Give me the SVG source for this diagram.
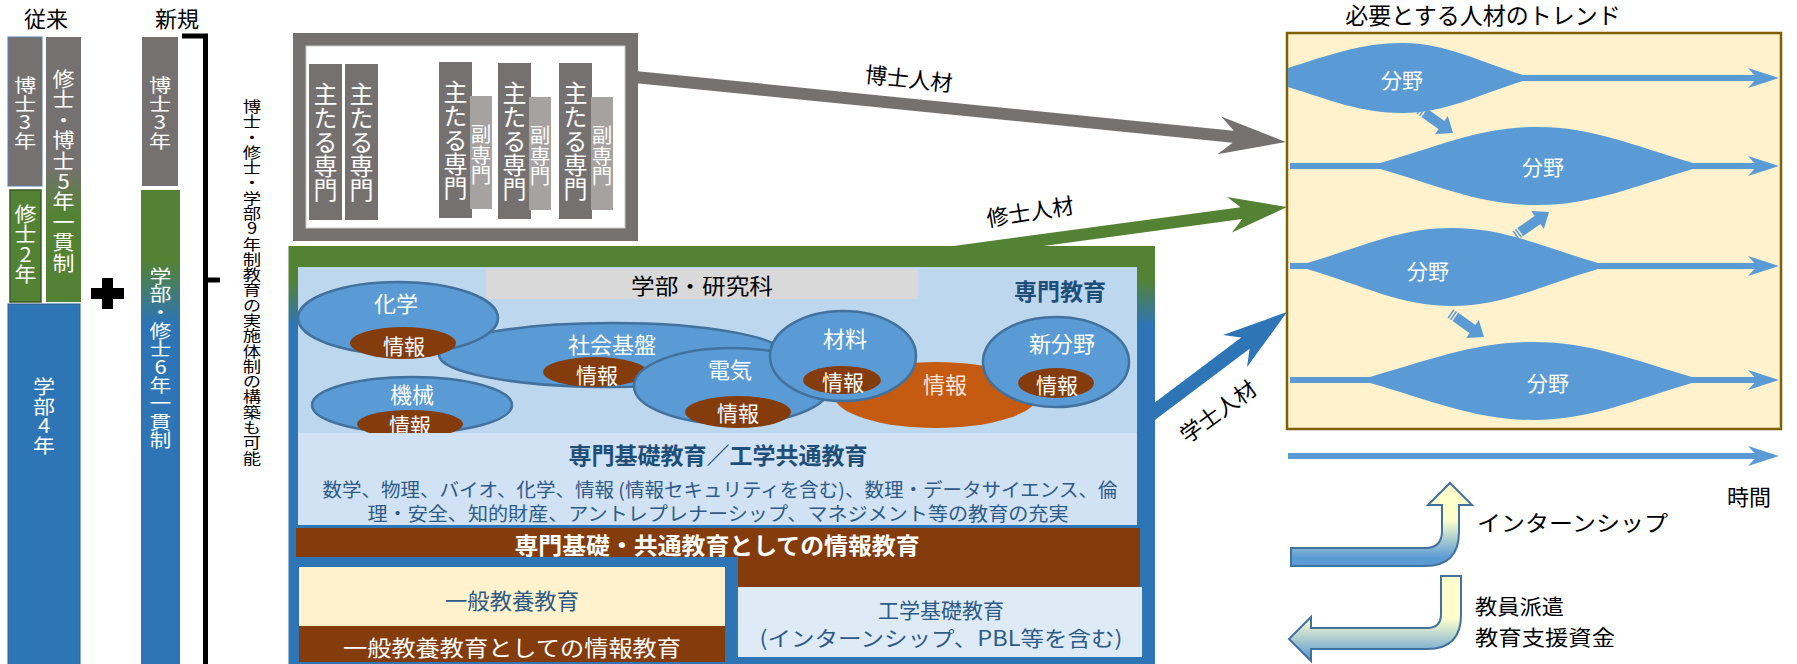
<svg xmlns="http://www.w3.org/2000/svg" width="1797" height="664" viewBox="0 0 1797 664">
<defs>
<style>
text{font-family:"Noto Sans CJK JP","Noto Sans",sans-serif;}
.c{text-anchor:middle;dominant-baseline:central;}
.s{text-anchor:start;dominant-baseline:central;}
.v{writing-mode:vertical-rl;text-orientation:upright;text-anchor:middle;}
.w{fill:#ffffff;}
.k{fill:#000000;}
.el{fill:#5B9BD5;stroke:#41719C;stroke-width:2.5;}
.br{fill:#843C0C;}
.blob{fill:#5B9BD5;}
.ln{stroke:#5B9BD5;stroke-width:6;fill:none;}
.db{fill:#1F4E79;font-weight:bold;}
.dt{fill:#2E5A88;}
</style>
<linearGradient id="g5" x1="0" y1="0" x2="0" y2="1">
<stop offset="0.49" stop-color="#767171"/><stop offset="0.66" stop-color="#548235"/>
</linearGradient>
<linearGradient id="g6" x1="0" y1="0" x2="0" y2="1">
<stop offset="0.15" stop-color="#548235"/><stop offset="0.28" stop-color="#2E75B6"/>
</linearGradient>
<linearGradient id="gbox" x1="0" y1="0" x2="0" y2="1">
<stop offset="0.08" stop-color="#548235"/><stop offset="0.19" stop-color="#2E75B6"/>
</linearGradient>
<linearGradient id="gup" x1="0" y1="0" x2="0" y2="1">
<stop offset="0.45" stop-color="#FFFFCC"/><stop offset="0.9" stop-color="#5B9BD5"/>
</linearGradient>
<linearGradient id="gdn" x1="0" y1="0" x2="0" y2="1">
<stop offset="0.5" stop-color="#FFFFCC"/><stop offset="0.97" stop-color="#5B9BD5"/>
</linearGradient>
<polygon id="ah" points="0,0 -31,-10 -22,0 -31,10" fill="#5B9BD5"/>
<g id="sa" fill="#5B9BD5">
<rect x="-41" y="-5" width="1.5" height="10"/>
<rect x="-38" y="-5" width="1.5" height="10"/>
<rect x="-35" y="-5" width="22" height="10"/>
<polygon points="-14,-11 0,0 -14,11"/>
</g>
</defs>

<!-- left: conventional / new -->
<text class="c k" x="46" y="17" font-size="22">従来</text>
<text class="c k" x="177" y="17" font-size="22">新規</text>

<g id="conv-phd"><rect x="8" y="37" width="34" height="149" fill="#767171" stroke="#5B7FA6" stroke-width="1"/><text class="v w" transform="translate(25,113) scale(1.2,1)" font-size="18.5">博士3年</text></g>
<g id="conv-ms"><rect x="10" y="190" width="31" height="112" fill="#548235" stroke="#3A5A24" stroke-width="1.5"/><text class="v w" transform="translate(25.5,244) scale(1.1,1)" font-size="20">修士2年</text></g>
<g id="conv-5yr"><rect x="46" y="37" width="35" height="265" fill="url(#g5)"/><text class="v w" transform="translate(63.5,171) scale(1.08,1)" font-size="20.4">修士・博士5年一貫制</text></g>
<g id="conv-ug"><rect x="8" y="304" width="72" height="362" fill="#2E75B6" stroke="#2A5E8F" stroke-width="1"/><text class="v w" transform="translate(44,416) scale(1.13,1)" font-size="19.5">学部4年</text></g>
<g id="plus"><rect x="91" y="288" width="33" height="11" fill="#000"/><rect x="102" y="278" width="11" height="31" fill="#000"/></g>
<g id="new-phd"><rect x="142" y="37" width="36" height="149" fill="#767171"/><text class="v w" transform="translate(160,113) scale(1.2,1)" font-size="18.5">博士3年</text></g>
<g id="new-6yr"><rect x="141" y="190" width="39" height="476" fill="url(#g6)"/><text class="v w" transform="translate(160.5,358) scale(1.2,1)" font-size="18.2">学部・修士6年一貫制</text></g>
<g id="bracket"><path d="M182,36 H205.5 V664 M205.5,280 H220" fill="none" stroke="#000" stroke-width="5"/></g>
<text class="v k" transform="translate(252,282) scale(1.2,1)" font-size="15.3">博士・修士・学部9年制教育の実施体制の構築も可能</text>

<!-- connectors -->
<g id="connectors">
<path transform="translate(1286,142) rotate(5.7)" d="M-652,-6 L-53,-6 L-67,-19 L0,0 L-67,19 L-53,6 L-652,6 Z" fill="#767171"/>
<path transform="translate(1287,207) rotate(-7.7)" d="M-420,-6 L-46,-6 L-58,-18 L0,0 L-58,18 L-46,6 L-420,6 Z" fill="#548235"/>
<path transform="translate(1287,312) rotate(-36.9)" d="M-180,-7 L-52,-7 L-65,-20 L0,0 L-65,20 L-52,7 L-180,7 Z" fill="#2E75B6"/>
<text class="c k" font-size="22" transform="translate(909,77) rotate(6)">博士人材</text>
<text class="c k" font-size="22" transform="translate(1030,210) rotate(-9)">修士人材</text>
<text class="c k" font-size="22" transform="translate(1217,410) rotate(-36)">学士人材</text>
</g>

<!-- doctor frame with books -->
<g id="phd-frame">
<rect x="299.5" y="39.5" width="332" height="195" fill="#fff" stroke="#767171" stroke-width="13"/>
<rect x="306" y="46" width="319" height="182" fill="none" stroke="#C9C9C9" stroke-width="1"/>
</g>
<g id="book1"><rect x="309" y="64" width="33" height="156" fill="#767171"/><text class="v w" x="325.5" y="142" font-size="24">主たる専門</text></g>
<g id="book2"><rect x="345" y="64" width="33" height="156" fill="#767171"/><text class="v w" x="361.5" y="142" font-size="24">主たる専門</text></g>
<g id="book3"><rect x="439" y="62" width="33" height="156" fill="#767171"/><text class="v w" x="455.5" y="140" font-size="24">主たる専門</text><rect x="470" y="96" width="22" height="113" fill="#A5A2A1"/><text class="v w" x="481" y="155" font-size="20.5">副専門</text></g>
<g id="book4"><rect x="498" y="63" width="33" height="156" fill="#767171"/><text class="v w" x="514.5" y="141" font-size="24">主たる専門</text><rect x="529" y="97" width="22" height="113" fill="#A5A2A1"/><text class="v w" x="540" y="156" font-size="20.5">副専門</text></g>
<g id="book5"><rect x="559" y="63" width="33" height="156" fill="#767171"/><text class="v w" x="575.5" y="141" font-size="24">主たる専門</text><rect x="591" y="97" width="22" height="113" fill="#A5A2A1"/><text class="v w" x="602" y="156" font-size="20.5">副専門</text></g>

<!-- main education box -->
<g id="edu-box">
<rect x="288.5" y="246" width="866.5" height="420" fill="url(#gbox)"/>
<rect x="298" y="267" width="839" height="166" fill="#BDD7EE"/>
</g>
<g id="faculty"><rect x="486" y="269" width="432" height="30" fill="#D9D9D9"/><text class="c k" x="702" y="284" font-size="22" textLength="142" lengthAdjust="spacingAndGlyphs">学部・研究科</text></g>
<text class="c db" x="1060" y="290" font-size="23">専門教育</text>

<g id="shakai"><ellipse class="el" cx="612" cy="355" rx="173" ry="32"/><ellipse class="br" cx="595" cy="372" rx="52" ry="15"/><text class="c w" x="612" y="343" font-size="22">社会基盤</text><text class="c w" x="597" y="374" font-size="21">情報</text></g>
<g id="kagaku"><ellipse class="el" cx="398" cy="318" rx="100" ry="36"/><ellipse class="br" cx="403" cy="343" rx="53" ry="16"/><text class="c w" x="396" y="302" font-size="22">化学</text><text class="c w" x="404" y="345" font-size="21">情報</text></g>
<g id="kikai"><ellipse class="el" cx="412" cy="405" rx="100" ry="28"/><ellipse class="br" cx="410" cy="424" rx="53" ry="14"/><text class="c w" x="412" y="393" font-size="22">機械</text><text class="c w" x="410" y="424" font-size="21">情報</text></g>
<g id="denki"><ellipse class="el" cx="732" cy="386" rx="98" ry="38"/><ellipse class="br" cx="738" cy="412" rx="53" ry="16"/><text class="c w" x="730" y="368" font-size="22">電気</text><text class="c w" x="738" y="412" font-size="21">情報</text></g>
<g id="joho"><ellipse cx="936" cy="395" rx="102" ry="33" fill="#C55A11"/><text class="c" x="945" y="383" font-size="22" fill="#FBE5D6">情報</text></g>
<g id="zairyo"><ellipse class="el" cx="843" cy="356" rx="73" ry="45"/><ellipse class="br" cx="842" cy="380" rx="39" ry="14"/><text class="c w" x="845" y="337" font-size="22">材料</text><text class="c w" x="843" y="381" font-size="21">情報</text></g>
<g id="shinbunya"><ellipse class="el" cx="1056" cy="362" rx="73" ry="45"/><ellipse class="br" cx="1056" cy="383" rx="38" ry="15"/><text class="c w" x="1062" y="342" font-size="22">新分野</text><text class="c w" x="1057" y="384" font-size="21">情報</text></g>

<g id="basic">
<rect x="298" y="433" width="839" height="92" fill="#D0E2F3"/>
<text class="c db" x="718" y="454" font-size="23">専門基礎教育／工学共通教育</text>
<text class="c dt" x="720" y="488" font-size="19" textLength="795" lengthAdjust="spacingAndGlyphs">数学、物理、バイオ、化学、情報 (情報セキュリティを含む)、数理・データサイエンス、倫</text>
<text class="c dt" x="718" y="512" font-size="19" textLength="701" lengthAdjust="spacingAndGlyphs">理・安全、知的財産、アントレプレナーシップ、マネジメント等の教育の充実</text>
</g>
<g id="info-common">
<path d="M296,528 H1140 V587 H738 V557 H296 Z" fill="#843C0C"/>
<text class="c w" x="717" y="544" font-size="23" font-weight="bold" textLength="405" lengthAdjust="spacingAndGlyphs">専門基礎・共通教育としての情報教育</text>
</g>
<g id="general">
<rect x="299" y="567" width="426" height="59" fill="#FFF2CC"/>
<text class="c dt" x="512" y="599" font-size="22" textLength="134" lengthAdjust="spacingAndGlyphs">一般教養教育</text>
<rect x="299" y="626" width="426" height="36" fill="#843C0C"/>
<text class="c w" x="512" y="646" font-size="22" textLength="338" lengthAdjust="spacingAndGlyphs">一般教養教育としての情報教育</text>
</g>
<g id="eng-basic">
<rect x="738" y="587" width="404" height="70" fill="#DEEBF7"/>
<text class="c dt" x="941" y="609" font-size="21">工学基礎教育</text>
<text class="c dt" x="941" y="637" font-size="21" textLength="363" lengthAdjust="spacingAndGlyphs">(インターンシップ、PBL等を含む)</text>
</g>

<!-- trends -->
<text class="c k" x="1483" y="14" font-size="23">必要とする人材のトレンド</text>
<g id="trend-box">
<rect x="1287" y="33" width="494" height="396" fill="#FFF2CC" stroke="#7F6000" stroke-width="2.5"/>
</g>
<g id="stream1">
<line class="ln" x1="1290" y1="78" x2="1760" y2="78"/><use href="#ah" x="1779" y="78"/>
<path class="blob" d="M1288,68 C1330,55 1360,43 1403,43 C1445,43 1475,60 1523,75 L1523,81 C1475,96 1445,113 1403,113 C1360,113 1330,100 1288,87 Z"/>
<text class="c w" x="1402" y="79" font-size="21">分野</text>
</g>
<g id="stream2">
<line class="ln" x1="1290" y1="166" x2="1760" y2="166"/><use href="#ah" x="1779" y="166"/>
<path class="blob" d="M1380,163 C1440,146 1480,127 1537,127 C1594,127 1634,146 1693,163 L1693,169 C1634,186 1594,205 1537,205 C1480,205 1440,186 1380,169 Z"/>
<text class="c w" x="1543" y="166" font-size="21">分野</text>
</g>
<g id="stream3">
<line class="ln" x1="1290" y1="266" x2="1760" y2="266"/><use href="#ah" x="1779" y="266"/>
<path class="blob" d="M1307,263 C1365,246 1400,228 1452,228 C1504,228 1540,246 1598,263 L1598,269 C1540,286 1504,306 1452,306 C1400,306 1365,286 1307,269 Z"/>
<text class="c w" x="1428" y="270" font-size="21">分野</text>
</g>
<g id="stream4">
<line class="ln" x1="1290" y1="380" x2="1760" y2="380"/><use href="#ah" x="1779" y="380"/>
<path class="blob" d="M1370,377 C1430,360 1475,342 1533,342 C1591,342 1633,360 1692,377 L1692,383 C1633,400 1591,420 1533,420 C1475,420 1430,400 1370,383 Z"/>
<text class="c w" x="1548" y="382" font-size="21">分野</text>
</g>
<g id="shifts">
<use href="#sa" transform="translate(1453,133) rotate(35)"/>
<use href="#sa" transform="translate(1549,212) rotate(-35)"/>
<use href="#sa" transform="translate(1484,337) rotate(35)"/>
</g>
<g id="time-axis">
<line class="ln" x1="1288" y1="456" x2="1760" y2="456"/><use href="#ah" x="1779" y="456"/>
<text class="c k" x="1749" y="495" font-size="22">時間</text>
</g>

<g id="internship">
<path d="M1291,548 L1425,548 Q1442,548 1442,531 L1442,505 L1428,505 L1450,483 L1472,505 L1459,505 L1459,532 Q1459,566 1425,566 L1291,566 Z" fill="url(#gup)" stroke="#41719C" stroke-width="2"/>
<text class="s k" x="1477" y="521" font-size="22" textLength="191" lengthAdjust="spacingAndGlyphs">インターンシップ</text>
</g>
<g id="support">
<path d="M1441,576 L1461,576 L1461,615 Q1461,649 1427,649 L1311,649 L1311,661 L1289,639 L1311,617 L1311,628 L1427,628 Q1441,628 1441,614 Z" fill="url(#gdn)" stroke="#41719C" stroke-width="2"/>
<text class="s k" x="1475" y="605" font-size="21" textLength="89" lengthAdjust="spacingAndGlyphs">教員派遣</text>
<text class="s k" x="1475" y="636" font-size="21" textLength="140" lengthAdjust="spacingAndGlyphs">教育支援資金</text>
</g>
</svg>
